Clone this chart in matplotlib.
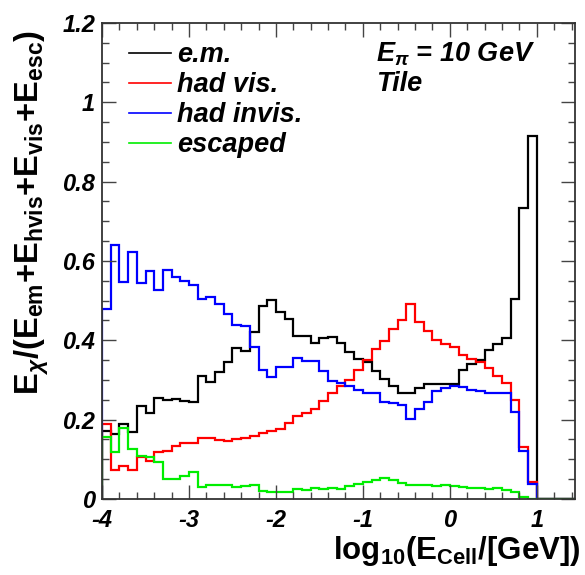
import numpy as np
import matplotlib
matplotlib.use("Agg")
import matplotlib.pyplot as plt
from matplotlib.ticker import MultipleLocator

# bin contents, 0.1 wide bins from log10(E) = -4 to 1
em = [0.172, 0.163, 0.190, 0.169, 0.234, 0.218, 0.254, 0.249, 0.251, 0.248,
      0.245, 0.309, 0.296, 0.321, 0.345, 0.380, 0.374, 0.420, 0.486, 0.501,
      0.471, 0.453, 0.410, 0.411, 0.392, 0.405, 0.408, 0.393, 0.371, 0.352,
      0.345, 0.322, 0.302, 0.284, 0.266, 0.268, 0.280, 0.291, 0.290, 0.289,
      0.290, 0.325, 0.340, 0.350, 0.376, 0.390, 0.406, 0.503, 0.733, 0.915]
had_vis = [0.189, 0.072, 0.082, 0.073, 0.106, 0.097, 0.118, 0.120, 0.133, 0.140,
           0.142, 0.155, 0.155, 0.149, 0.146, 0.151, 0.153, 0.158, 0.166, 0.171,
           0.176, 0.192, 0.208, 0.218, 0.228, 0.246, 0.267, 0.286, 0.301, 0.325,
           0.350, 0.377, 0.399, 0.428, 0.452, 0.492, 0.445, 0.423, 0.400, 0.390,
           0.382, 0.363, 0.352, 0.346, 0.330, 0.311, 0.292, 0.249, 0.130, 0.044]
had_invis = [0.479, 0.641, 0.546, 0.622, 0.545, 0.576, 0.528, 0.578, 0.559, 0.549,
             0.540, 0.503, 0.509, 0.492, 0.466, 0.439, 0.437, 0.382, 0.324, 0.308,
             0.334, 0.334, 0.356, 0.348, 0.347, 0.323, 0.297, 0.292, 0.285, 0.276,
             0.268, 0.266, 0.245, 0.242, 0.238, 0.202, 0.226, 0.245, 0.272, 0.280,
             0.284, 0.282, 0.276, 0.273, 0.268, 0.268, 0.268, 0.220, 0.122, 0.038]
escaped = [0.157, 0.118, 0.178, 0.125, 0.108, 0.105, 0.094, 0.051, 0.051, 0.058,
           0.067, 0.031, 0.034, 0.035, 0.034, 0.029, 0.032, 0.036, 0.019, 0.017,
           0.018, 0.018, 0.025, 0.022, 0.028, 0.025, 0.027, 0.025, 0.033, 0.038,
           0.044, 0.048, 0.052, 0.047, 0.040, 0.034, 0.036, 0.035, 0.032, 0.035,
           0.033, 0.030, 0.028, 0.027, 0.025, 0.027, 0.023, 0.018, 0.006, 0.000]

labels = ["e.m.", "had vis.", "had invis.", "escaped"]
colors = ["black", "red", "blue", "#00ee00"]

# empty bins up to the end of the axis
n_extra = 5
edges = -4 + 0.1 * np.arange(len(em) + n_extra + 1)

plt.rcParams['font.family'] = ['Liberation Sans', 'DejaVu Sans']
plt.rcParams['mathtext.fontset'] = 'custom'
plt.rcParams['mathtext.rm'] = 'Liberation Sans:bold'
plt.rcParams['mathtext.bf'] = 'Liberation Sans:bold'
plt.rcParams['mathtext.it'] = 'Liberation Sans:italic:bold'

fig = plt.figure(figsize=(5.85, 5.75), dpi=100)
ax = fig.add_axes([0.1744, 0.1322, 0.8086, 0.8278])

for vals, c, lab in zip([em, had_vis, had_invis, escaped], colors, labels):
    v = np.concatenate([vals, np.zeros(n_extra)])
    ax.stairs(v, edges, color=c, lw=1.6, label=lab)

ax.set_xlim(-4, 1.44)
ax.set_ylim(0, 1.2)

ax.xaxis.set_major_locator(MultipleLocator(1))
ax.xaxis.set_minor_locator(MultipleLocator(0.2))
ax.yaxis.set_major_locator(MultipleLocator(0.2))
ax.yaxis.set_minor_locator(MultipleLocator(0.05))
ax.tick_params(which='both', direction='in', top=True, right=True, width=1, color='#444444')
ax.tick_params(which='major', length=10)
ax.tick_params(which='minor', length=5)
ax.tick_params(axis='x', pad=7)
ax.tick_params(axis='y', pad=5)
for s in ax.spines.values():
    s.set_linewidth(1.3)
    s.set_color('#333333')

ax.set_xticks([-4, -3, -2, -1, 0, 1])
ax.set_xticklabels(['-4', '-3', '-2', '-1', '0', '1'])
ax.set_yticks([0, 0.2, 0.4, 0.6, 0.8, 1.0, 1.2])
ax.set_yticklabels(['0', '0.2', '0.4', '0.6', '0.8', '1', '1.2'])
for t in ax.get_xticklabels() + ax.get_yticklabels():
    t.set_fontsize(17)
    t.set_fontweight('bold')
    t.set_fontstyle('italic')

leg = ax.legend(loc='upper left', bbox_to_anchor=(0.058, 0.96), frameon=False,
                prop={'size': 19.5, 'weight': 'bold', 'style': 'italic'},
                handlelength=1.55, handletextpad=0.2, labelspacing=0.15,
                borderaxespad=0, borderpad=0)
for h in leg.get_lines():
    h.set_linewidth(1.2)

ax.text(0.58, 0.934, r'$\mathit{E}_{\pi}$ = 10 GeV', transform=ax.transAxes,
        fontsize=19.5, fontweight='bold', fontstyle='italic', va='center')
ax.text(0.58, 0.872, 'Tile', transform=ax.transAxes,
        fontsize=19.5, fontweight='bold', fontstyle='italic', va='center')

fig.text(0.992, 0.028, r'log$_{10}$(E$_{\mathrm{Cell}}$/[GeV])', ha='right', va='baseline',
         fontsize=22.5, fontweight='bold')
fig.text(0.055, 0.948, r'E$_{\chi}$/(E$_{\mathrm{em}}$+E$_{\mathrm{hvis}}$+E$_{\mathrm{vis}}$+E$_{\mathrm{esc}}$)',
         rotation=90, ha='center', va='top', fontsize=23.5, fontweight='bold')

fig.savefig('out.png', dpi=100)
